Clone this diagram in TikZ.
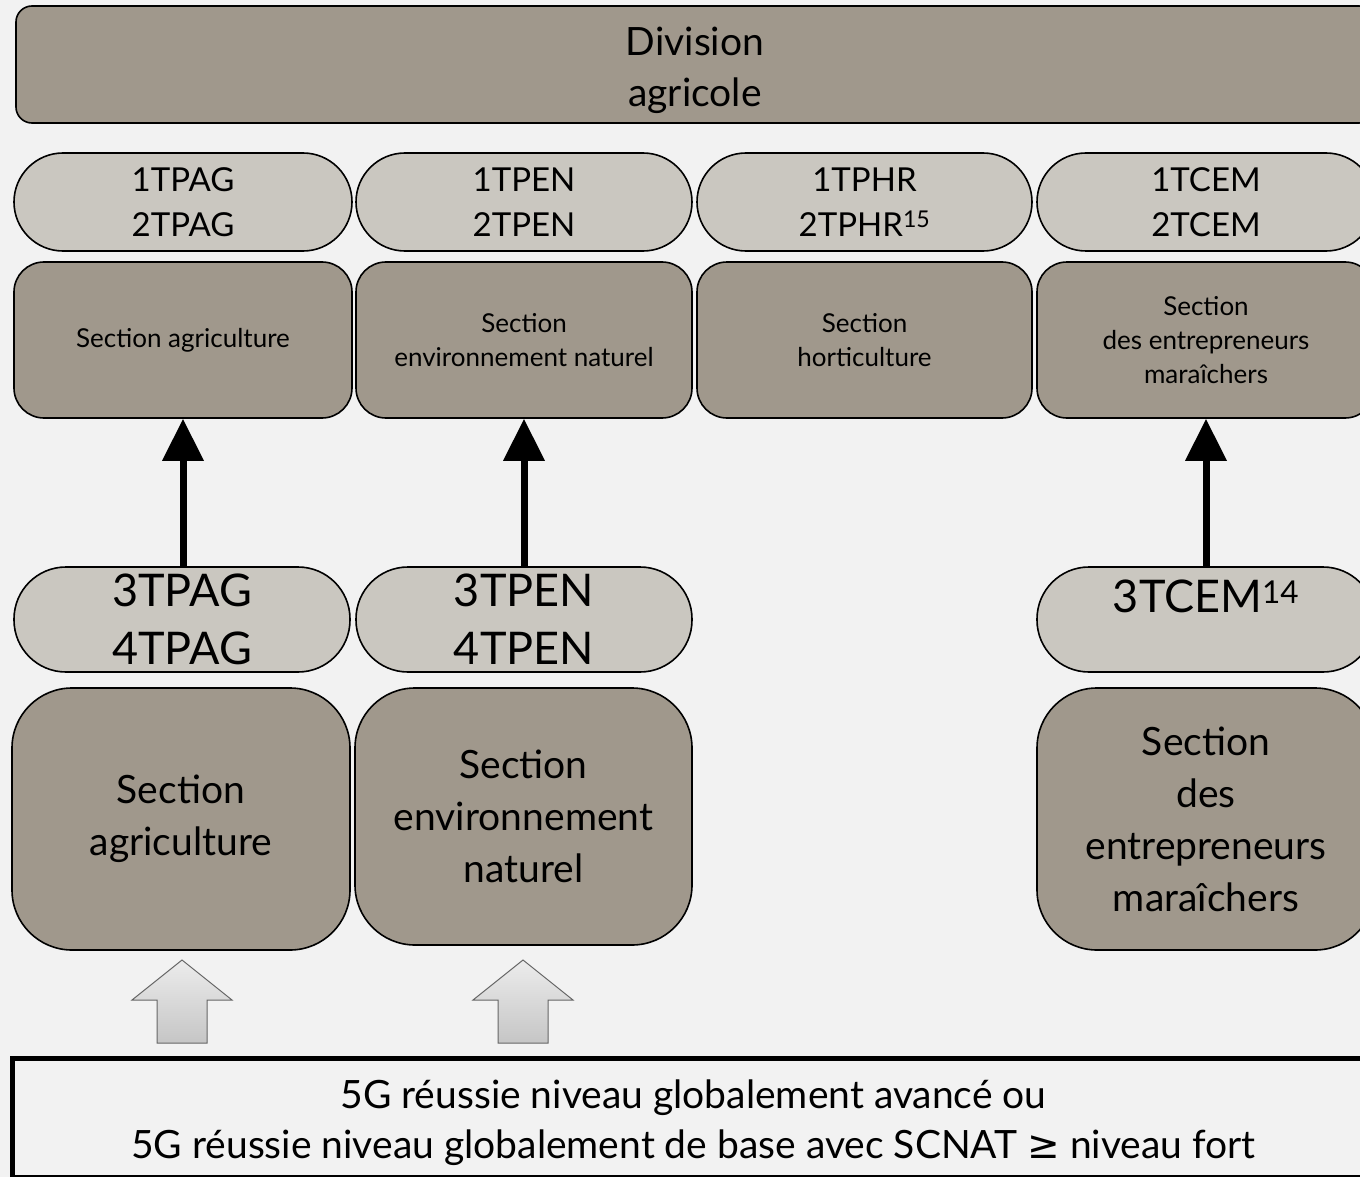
\documentclass[tikz,border=0pt]{standalone}
\usepackage{fontspec}
\setmainfont{Lato}
\newfontfamily\symfont{DejaVu Sans}
\usetikzlibrary{arrows.meta}
\definecolor{bgc}{HTML}{F2F2F2}
\definecolor{darkbox}{HTML}{A0988C}
\definecolor{lightbox}{HTML}{CAC7C0}
\tikzset{
  base/.style={draw=black, line width=1.6pt, align=center, inner sep=0pt, text=black},
  pill/.style={base, fill=lightbox, rounded corners=#1},
  sect/.style={base, fill=darkbox, rounded corners=#1},
  bigarrow/.style={line width=7pt, -{Triangle[width=40pt,length=42pt]}},
  blockarrow/.style={draw=gray!80!black, line width=1pt, top color=gray!15, bottom color=gray!45},
  fA/.style={font=\fontsize{33}{45}\selectfont},
  fB/.style={font=\fontsize{26}{34}\selectfont},
  fC/.style={font=\fontsize{45}{58}\selectfont},
  fD/.style={font=\fontsize{39}{52}\selectfont},
  fE/.style={font=\fontsize{39}{51}\selectfont},
}
\begin{document}
\begin{tikzpicture}[x=1pt,y=-1pt]
\useasboundingbox (0,0) rectangle (1360,1177);
\fill[bgc] (0,0) rectangle (1360,1177);

% top division
\node[sect=16pt, minimum width=1359pt, minimum height=117pt] (div) at (695.5,64.5) {};
\node[fE, align=center, inner sep=0pt] (divt) at (695,70) {Division\\agricole};

% row 1 pills
\node[pill=49pt, fA, minimum width=338pt, minimum height=98pt] (p1a) at (183,202) {1TPAG\\2TPAG};
\node[pill=49pt, fA, minimum width=336pt, minimum height=98pt] (p1b) at (524,202) {1TPEN\\2TPEN};
\node[pill=49pt, fA, minimum width=335pt, minimum height=98pt] (p1c) at (864.5,202) {1TPHR\\2TPHR\textsuperscript{15}};
\node[pill=49pt, fA, minimum width=338pt, minimum height=98pt] (p1d) at (1206,202) {1TCEM\\2TCEM};

% row 2 sections
\node[sect=30pt, fB, minimum width=338pt, minimum height=156pt] (s2a) at (183,340) {Section agriculture};
\node[sect=30pt, fB, minimum width=336pt, minimum height=156pt] (s2b) at (524,340) {Section\\environnement naturel};
\node[sect=30pt, fB, minimum width=335pt, minimum height=156pt] (s2c) at (864.5,340) {Section\\horticulture};
\node[sect=30pt, fB, minimum width=338pt, minimum height=156pt] (s2d) at (1206,340) {Section\\des entrepreneurs\\maraîchers};

% row 3 pills
\node[pill=52pt, fC, minimum width=336pt, minimum height=105pt] (p3a) at (182,619.5) {3TPAG\\4TPAG};
\node[pill=52pt, fC, minimum width=336pt, minimum height=105pt] (p3b) at (524,619.5) {3TPEN\\4TPEN};
\node[pill=52pt, fC, minimum width=338pt, minimum height=105pt] (p3d) at (1206,619.5) {};
\node[fC, anchor=center] (t3d) at (1206,596) {3TCEM\textsuperscript{14}};

% row 4 sections
\node[sect=60pt, fD, minimum width=338pt, minimum height=262pt] (s4a) at (181,819) {Section\\agriculture};
\node[sect=60pt, fD, minimum width=337pt, minimum height=257pt] (s4b) at (523.5,816.5) {Section\\environnement\\naturel};
\node[sect=60pt, fD, minimum width=338pt, minimum height=262pt] (s4d) at (1206,819) {Section\\des\\entrepreneurs\\maraîchers};

% black arrows
\draw[bigarrow] (p3a.north -| s2a.south) -- (s2a.south);
\draw[bigarrow] (p3b.north) -- (s2b.south);
\draw[bigarrow] (p3d.north) -- (s2d.south);

% bottom box
\node[draw=black, line width=5pt, fill=bgc, minimum width=1363pt, minimum height=119pt, inner sep=0pt] (bot) at (693.5,1117.5) {};
\node[align=center, inner sep=0pt, font=\fontsize{39}{50}\selectfont] (bott) at (693.5,1123)
  {5G réussie niveau globalement avancé ou\\5G réussie niveau globalement de base avec SCNAT {\symfont ≥} niveau fort};

% block arrows
\path[blockarrow] (157,1043) -- (207,1043) -- (207,1000) -- (232,1000) -- (182,960) -- (132,1000) -- (157,1000) -- cycle;
\path[blockarrow] (498,1043) -- (548,1043) -- (548,1000) -- (573,1000) -- (523,960) -- (473,1000) -- (498,1000) -- cycle;
\end{tikzpicture}
\end{document}
